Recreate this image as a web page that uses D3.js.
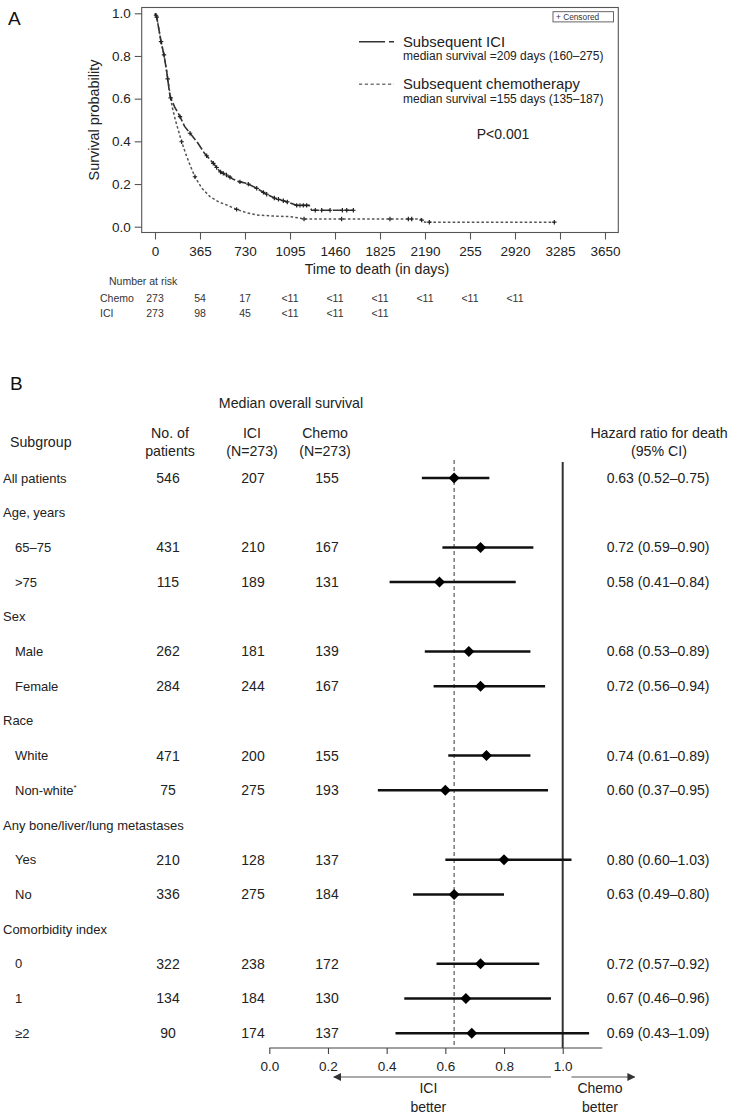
<!DOCTYPE html>
<html><head><meta charset="utf-8">
<script src="https://cdn.jsdelivr.net/npm/d3@7"></script>
<style>
body{margin:0;background:#fff}
svg{display:block;font-family:"Liberation Sans",Arial,Helvetica,sans-serif}
</style>
</head><body>
<svg id="c" width="746" height="1117"></svg>
<script>
// ---------------- Panel A data ----------------
const iciTimes = [0,13,30,49,73,95,122,160,197,240,284,350,400,473,527,581,635,690,744,825,892,973,1068,1149,1250,1271,1614];
const iciSurv  = [1.0,0.985,0.93,0.867,0.805,0.727,0.61,0.56,0.523,0.47,0.438,0.39,0.345,0.297,0.258,0.242,0.222,0.21,0.203,0.18,0.156,0.133,0.117,0.100,0.100,0.077,0.077];
const chemoTimes = [0,13,30,49,73,95,122,140,165,190,216,250,290,324,380,446,520,581,662,740,825,960,1095,1180,1203,2149,2190,3239];
const chemoSurv  = [1.0,0.985,0.93,0.867,0.805,0.727,0.62,0.56,0.50,0.45,0.398,0.34,0.28,0.234,0.18,0.141,0.115,0.102,0.081,0.066,0.055,0.05,0.047,0.04,0.036,0.036,0.021,0.021];
const iciCensor = [8,14,49,73,103,127,203,284,419,473,500,532,554,580,608,689,757,825,879,906,968,1001,1041,1073,1149,1176,1203,1230,1300,1352,1420,1520,1555,1609];
const chemoCensor = [216,324,662,1209,1514,1906,2055,2082,2163,2225,3239];
const timeTicks = [0,365,730,1095,1460,1825,2190,2555,2920,3285,3650];
const timeTickLabels = ["0","365","730","1095","1460","1825","2190","255","2920","3285","3650"];
const survTicks = [0,0.2,0.4,0.6,0.8,1.0];
const riskChemo = ["273","54","17","<11","<11","<11","<11","<11","<11"];
const riskICI = ["273","98","45","<11","<11","<11"];
const legendNames = ["Subsequent ICI","Subsequent chemotherapy"];
const legendMedians = ["median survival =209 days (160\u2013275)","median survival =155 days (135\u2013187)"];

// ---------------- Panel B data ----------------
const rowLabels = ["All patients","Age, years","65\u201375",">75","Sex","Male","Female","Race","White","Non-white","Any bone/liver/lung metastases","Yes","No","Comorbidity index","0","1","\u22652"];
const rowSup    = ["","","","","","","","","","*","","","","","","",""];
const rowIsSub  = [0,0,1,1,0,1,1,0,1,1,0,1,1,0,1,1,1];
const nPatients = [546,null,431,115,null,262,284,null,471,75,null,210,336,null,322,134,90];
const iciMedian = [207,null,210,189,null,181,244,null,200,275,null,128,275,null,238,184,174];
const chemoMedian=[155,null,167,131,null,139,167,null,155,193,null,137,184,null,172,130,137];
const hr     = [0.63,null,0.72,0.58,null,0.68,0.72,null,0.74,0.60,null,0.80,0.63,null,0.72,0.67,0.69];
const hrLow  = [0.52,null,0.59,0.41,null,0.53,0.56,null,0.61,0.37,null,0.60,0.49,null,0.57,0.46,0.43];
const hrHigh = [0.75,null,0.90,0.84,null,0.89,0.94,null,0.89,0.95,null,1.03,0.80,null,0.92,0.96,1.09];
const hrTicks = [0,0.2,0.4,0.6,0.8,1.0];

const svg = d3.select("#c");
svg.append("rect").attr("width",746).attr("height",1117).attr("fill","#fff");
const FONT = '"Liberation Sans",Arial,Helvetica,sans-serif';

// ================= PANEL A =================
const gA = svg.append("g");
gA.append("text").attr("x",8).attr("y",25).attr("font-size",19).attr("fill","#111").text("A");

const x = d3.scaleLinear().domain([0,3650]).range([155,605]);
const y = d3.scaleLinear().domain([0,1]).range([226.7,13.3]);
const padX = 13.3, padY = 5.8;
const fx0 = x.range()[0]-padX, fx1 = x.range()[1]+padX, fy0 = y.range()[1]-padY, fy1 = y.range()[0]+padY;

gA.append("rect").attr("x",fx0).attr("y",fy0).attr("width",fx1-fx0).attr("height",fy1-fy0)
  .attr("fill","none").attr("stroke","#555").attr("stroke-width",1.1);

const yAx = gA.append("g").attr("transform",`translate(${fx0},0)`)
  .call(d3.axisLeft(y).tickValues(survTicks).tickFormat(d3.format(".1f")).tickSize(7).tickPadding(4));
const xAx = gA.append("g").attr("transform",`translate(0,${fy1})`)
  .call(d3.axisBottom(x).tickValues(timeTicks).tickFormat((d,i)=>timeTickLabels[i]).tickSize(7).tickPadding(6.5));
[yAx,xAx].forEach(a=>{
  a.select(".domain").remove();
  a.attr("font-family",FONT);
  a.selectAll("line").attr("stroke","#555").attr("stroke-width",1.1);
  a.selectAll("text").attr("font-size",13.5).attr("fill","#222");
});

gA.append("text").attr("transform","translate(98.5,120) rotate(-90)").attr("text-anchor","middle")
  .attr("font-size",14.4).attr("fill","#222").text("Survival probability");
gA.append("text").attr("x",377).attr("y",273.5).attr("text-anchor","middle")
  .attr("font-size",14.2).attr("fill","#222").text("Time to death (in days)");

function survAt(times, surv, t){
  const i = Math.max(0, Math.min(times.length-2, d3.bisectRight(times,t)-1));
  const f = (t-times[i])/(times[i+1]-times[i]);
  return surv[i] + Math.max(0,Math.min(1,f))*(surv[i+1]-surv[i]);
}
const line = d3.line().x(d=>x(d[0])).y(d=>y(d[1]));
const curves = [
  {times:chemoTimes, surv:chemoSurv, cens:chemoCensor, color:"#555", dash:"2.6,2.2", w:1.5},
  {times:iciTimes, surv:iciSurv, cens:iciCensor, color:"#333", dash:"9,2.5", w:1.6}
];
curves.forEach(c=>{
  gA.append("path").attr("d",line(c.times.map((t,i)=>[t,c.surv[i]])))
    .attr("fill","none").attr("stroke",c.color).attr("stroke-width",c.w).attr("stroke-dasharray",c.dash);
  const cg = gA.append("g");
  c.cens.forEach(t=>{
    const cx = x(t), cy = y(survAt(c.times,c.surv,t));
    cg.append("path").attr("d",`M${cx-2.2},${cy}H${cx+2.2}M${cx},${cy-2.2}V${cy+2.2}`)
      .attr("stroke","#222").attr("stroke-width",1.2);
  });
});

// legend
const lg = gA.append("g");
lg.append("rect").attr("x",553).attr("y",11.7).attr("width",60.5).attr("height",10.2)
  .attr("fill","#fff").attr("stroke","#555").attr("stroke-width",0.9);
lg.append("text").attr("x",556).attr("y",19.5).attr("font-size",8.3).attr("fill","#333").text("+ Censored");
const legDash = ["26,4","3.2,2.6"], legColor=["#333","#777"], legY=[41.7,84.3];
legendNames.forEach((n,i)=>{
  lg.append("line").attr("x1",359).attr("x2",394).attr("y1",legY[i]).attr("y2",legY[i])
    .attr("stroke",legColor[i]).attr("stroke-width",1.5).attr("stroke-dasharray",legDash[i]);
  lg.append("text").attr("x",403).attr("y",legY[i]+4.8).attr("font-size",14.8).attr("fill","#222").text(n);
  lg.append("text").attr("x",403).attr("y",legY[i]+18.5).attr("font-size",12).attr("fill","#222").text(legendMedians[i]);
});
lg.append("text").attr("x",503).attr("y",139).attr("text-anchor","middle").attr("font-size",14).attr("fill","#222").text("P<0.001");

// number at risk
const nr = gA.append("g").attr("font-size",10.5).attr("fill","#333");
nr.append("text").attr("x",109).attr("y",285).text("Number at risk");
nr.append("text").attr("x",100).attr("y",302).text("Chemo");
nr.append("text").attr("x",100).attr("y",317).text("ICI");
riskChemo.forEach((v,i)=>nr.append("text").attr("x",x(timeTicks[i])).attr("y",302).attr("text-anchor","middle").text(v));
riskICI.forEach((v,i)=>nr.append("text").attr("x",x(timeTicks[i])).attr("y",317).attr("text-anchor","middle").text(v));

// ================= PANEL B =================
const gB = svg.append("g").attr("fill","#222");
gB.append("text").attr("x",10).attr("y",390).attr("font-size",19).attr("fill","#111").text("B");

const colN = 168, colICI = 253, colChemo = 327, colHR = 658;
const hdr = gB.append("g").attr("font-size",14.2).attr("fill","#222").attr("text-anchor","middle");
hdr.append("text").attr("x",291).attr("y",408).text("Median overall survival");
hdr.append("text").attr("x",10).attr("y",447).attr("text-anchor","start").text("Subgroup");
hdr.append("text").attr("x",colN+2).attr("y",437.5).text("No. of");
hdr.append("text").attr("x",colN+2).attr("y",455.5).text("patients");
hdr.append("text").attr("x",colICI-1).attr("y",437.5).text("ICI");
hdr.append("text").attr("x",colICI-1).attr("y",455.5).text("(N=273)");
hdr.append("text").attr("x",colChemo-2).attr("y",437.5).text("Chemo");
hdr.append("text").attr("x",colChemo-2).attr("y",455.5).text("(N=273)");
hdr.append("text").attr("x",colHR+1).attr("y",437.5).text("Hazard ratio for death");
hdr.append("text").attr("x",colHR+1).attr("y",455.5).text("(95% CI)");

const fxs = d3.scaleLinear().domain([0,1]).range([269.3,562.7]);
const ry = d3.scalePoint().domain(d3.range(rowLabels.length)).range([478,1033.2]);
const axisY = 1048;

// reference lines
gB.append("line").attr("x1",fxs(hr[0])).attr("x2",fxs(hr[0])).attr("y1",460).attr("y2",axisY)
  .attr("stroke","#666").attr("stroke-width",1.3).attr("stroke-dasharray","4,3");
gB.append("line").attr("x1",fxs(1)).attr("x2",fxs(1)).attr("y1",462).attr("y2",axisY)
  .attr("stroke","#333").attr("stroke-width",2);

const fmt = d3.format(".2f");
rowLabels.forEach((lab,i)=>{
  const cy = ry(i);
  const t = gB.append("text").attr("x",rowIsSub[i]?15:3).attr("y",cy).attr("dy","0.35em")
    .attr("font-size",13).text(lab);
  if(rowSup[i]) t.append("tspan").attr("font-size",8).attr("dy","-0.55em").text(rowSup[i]);
  if(nPatients[i]!=null){
    [[colN,nPatients[i]],[colICI,iciMedian[i]],[colChemo,chemoMedian[i]]].forEach(([cx,v])=>{
      gB.append("text").attr("x",cx).attr("y",cy).attr("dy","0.35em").attr("text-anchor","middle")
        .attr("font-size",14).text(v);
    });
    gB.append("line").attr("x1",fxs(hrLow[i])).attr("x2",fxs(hrHigh[i])).attr("y1",cy).attr("y2",cy)
      .attr("stroke","#111").attr("stroke-width",2.5);
    const dx = fxs(hr[i]);
    gB.append("path").attr("d",`M${dx},${cy-5.5}L${dx+5.5},${cy}L${dx},${cy+5.5}L${dx-5.5},${cy}Z`).attr("fill","#000");
    gB.append("text").attr("x",colHR).attr("y",cy).attr("dy","0.35em").attr("text-anchor","middle")
      .attr("font-size",14).text(`${fmt(hr[i])} (${fmt(hrLow[i])}\u2013${fmt(hrHigh[i])})`);
  }
});

// forest axis
const fa = gB.append("g").attr("transform",`translate(0,${axisY})`)
  .call(d3.axisBottom(fxs).tickValues(hrTicks).tickFormat(d3.format(".1f")).tickSize(6).tickPadding(7.5));
fa.select(".domain").remove();
fa.attr("font-family",FONT);
fa.selectAll("line").attr("stroke","#444").attr("stroke-width",1.1);
fa.selectAll("text").attr("font-size",13.5).attr("fill","#222");
gB.append("line").attr("x1",fxs(0)).attr("x2",fxs(1.135)).attr("y1",axisY).attr("y2",axisY)
  .attr("stroke","#444").attr("stroke-width",1.1);

// arrows
const defs = svg.append("defs");
defs.append("marker").attr("id","ah").attr("viewBox","0 0 10 10").attr("refX",9).attr("refY",5)
  .attr("markerWidth",4).attr("markerHeight",4).attr("orient","auto-start-reverse")
  .append("path").attr("d","M0,0L10,5L0,10Z").attr("fill","#333");
const arY = 1077;
gB.append("line").attr("x1",fxs(0.96)).attr("x2",fxs(0.22)).attr("y1",arY).attr("y2",arY)
  .attr("stroke","#aaa").attr("stroke-width",2).attr("marker-end","url(#ah)");
gB.append("line").attr("x1",fxs(1.03)).attr("x2",fxs(1.245)).attr("y1",arY).attr("y2",arY)
  .attr("stroke","#aaa").attr("stroke-width",2).attr("marker-end","url(#ah)");
const at = gB.append("g").attr("font-size",14).attr("text-anchor","middle");
at.append("text").attr("x",fxs(0.542)).attr("y",1093).text("ICI");
at.append("text").attr("x",fxs(0.542)).attr("y",1112).text("better");
at.append("text").attr("x",fxs(1.127)).attr("y",1093).text("Chemo");
at.append("text").attr("x",fxs(1.127)).attr("y",1112).text("better");
</script>
</body></html>
